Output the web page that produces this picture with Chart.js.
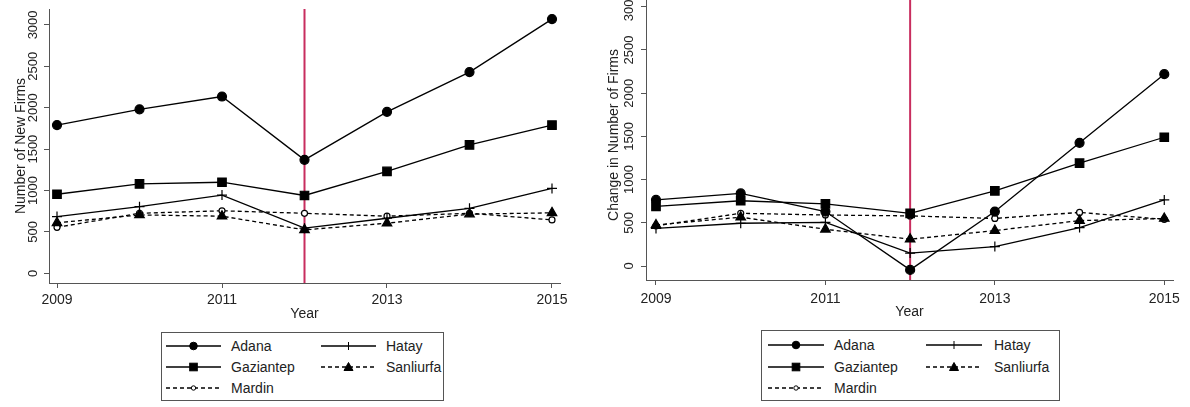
<!DOCTYPE html>
<html>
<head>
<meta charset="utf-8">
<title>New firms by province, 2009-2015</title>
<script src="https://cdn.jsdelivr.net/npm/chart.js@4/dist/chart.umd.min.js"></script>
<style>
    html, body { margin: 0; padding: 0; background: #fff; }
    body {
        width: 1190px; height: 407px; position: relative; overflow: hidden;
        font-family: "Liberation Sans", Arial, sans-serif; color: #222;
    }
    canvas { position: absolute; }
    .legend { position: absolute; border: 1px solid #555; box-sizing: border-box; background: #fff; }
    .legend svg { position: absolute; overflow: visible; }
    .legend span { position: absolute; font-size: 14px; line-height: 16px; white-space: nowrap; }
</style>
</head>
<body>
<canvas id="newFirmsChart" width="590" height="330" style="left:0;top:0"></canvas>
<canvas id="changeChart" width="594" height="350" style="left:596px;top:-20px"></canvas>
<div class="legend" id="newFirmsLegend" style="left:161px;top:332px;width:283px;height:69px"></div>
<div class="legend" id="changeLegend" style="left:761px;top:330px;width:299px;height:71px"></div>

<script>
// Data
const years = [2009, 2010, 2011, 2012, 2013, 2014, 2015];
const provinces = ['Adana', 'Hatay', 'Gaziantep', 'Sanliurfa', 'Mardin'];
const xTicks = [2009, 2011, 2013, 2015];
const yTicks = [0, 500, 1000, 1500, 2000, 2500, 3000];
const cutoffYear = 2012;

// Left panel: number of new firms
const newAdana     = [1790, 1980, 2135, 1370, 1950, 2430, 3070];
const newHatay     = [685, 805, 945, 545, 665, 785, 1025];
const newGaziantep = [955, 1080, 1100, 940, 1230, 1550, 1790];
const newSanliurfa = [610, 705, 690, 525, 605, 715, 730];
const newMardin    = [555, 725, 755, 725, 690, 725, 645];

// Right panel: change in number of firms
const chgAdana     = [765, 840, 630, -45, 630, 1425, 2220];
const chgHatay     = [435, 495, 505, 150, 225, 445, 765];
const chgGaziantep = [690, 755, 720, 610, 870, 1190, 1490];
const chgSanliurfa = [475, 565, 425, 310, 410, 525, 550];
const chgMardin    = [465, 610, 590, 580, 550, 620, 540];

const fontFamily = '"Liberation Sans", Arial, sans-serif';
const textColor = '#222';
const axisColor = '#555';
const cutoffColor = 'rgb(200, 45, 95)';

// marker + line look per province (Stata-like)
const seriesStyle = {
    Adana:     { point: 'circle',   radius: 4.5, fill: '#000', dash: [] },
    Hatay:     { point: 'cross',    radius: 5,   fill: '#000', dash: [] },
    Gaziantep: { point: 'rect',     radius: 6,   fill: '#000', dash: [] },
    Sanliurfa: { point: 'triangle', radius: 5.5, fill: '#000', dash: [4, 3] },
    Mardin:    { point: 'circle',   radius: 3,   fill: '#fff', dash: [4, 3] }
};

// Vertical line at the cutoff year
const cutoffLine = {
    id: 'cutoffLine',
    beforeDatasetsDraw(chart) {
        const { ctx, chartArea, scales } = chart;
        const x = scales.x.getPixelForValue(cutoffYear);
        ctx.save();
        ctx.strokeStyle = cutoffColor;
        ctx.lineWidth = 2;
        ctx.beginPath();
        ctx.moveTo(x, chartArea.top);
        ctx.lineTo(x, chartArea.bottom);
        ctx.stroke();
        ctx.restore();
    }
};

function buildDatasets(seriesList) {
    return provinces.map((name, i) => {
        const st = seriesStyle[name];
        return {
            label: name,
            data: years.map((yr, j) => ({ x: yr, y: seriesList[i][j] })),
            borderColor: '#000',
            borderWidth: 1.3,
            borderDash: st.dash,
            pointStyle: st.point,
            pointRadius: st.radius,
            pointBackgroundColor: st.fill,
            pointBorderColor: '#000',
            pointBorderWidth: 1.2,
            tension: 0,
            clip: false
        };
    });
}

function makePanel(canvasId, seriesList, yTitle, g) {
    const ctx = document.getElementById(canvasId).getContext('2d');
    return new Chart(ctx, {
        type: 'line',
        data: { datasets: buildDatasets(seriesList) },
        options: {
            responsive: false,
            animation: false,
            devicePixelRatio: 1,
            events: [],
            layout: { padding: g.padding },
            plugins: { legend: { display: false }, tooltip: { enabled: false } },
            scales: {
                x: {
                    type: 'linear',
                    min: g.xMin,
                    max: g.xMax,
                    afterBuildTicks: s => { s.ticks = xTicks.map(v => ({ value: v })); },
                    afterFit: s => { s.height = g.xAxisH; },
                    grid: { drawOnChartArea: false, tickLength: 5, color: axisColor },
                    border: { color: axisColor },
                    ticks: {
                        color: textColor, padding: g.xTickPad, maxRotation: 0,
                        font: { family: fontFamily, size: 14 },
                        callback: v => String(v)
                    },
                    title: {
                        display: true, text: 'Year', color: textColor,
                        font: { family: fontFamily, size: 14 },
                        padding: { top: 0, bottom: g.xTitlePad }
                    }
                },
                y: {
                    min: g.yMin,
                    max: g.yMax,
                    afterBuildTicks: s => { s.ticks = yTicks.map(v => ({ value: v })); },
                    afterFit: s => { s.width = g.yAxisW; },
                    grid: { drawOnChartArea: false, tickLength: 5, color: axisColor },
                    border: { color: axisColor },
                    ticks: {
                        color: textColor, padding: g.yTickPad,
                        minRotation: 90, maxRotation: 90, crossAlign: 'center',
                        font: { family: fontFamily, size: 13 },
                        callback: v => String(v)
                    },
                    title: {
                        display: true, text: yTitle, color: textColor,
                        font: { family: fontFamily, size: 14 },
                        padding: { top: g.yTitlePad, bottom: 0 }
                    }
                }
            }
        },
        plugins: [cutoffLine]
    });
}

makePanel('newFirmsChart',
    [newAdana, newHatay, newGaziantep, newSanliurfa, newMardin],
    'Number of New Firms',
    {
        padding: { left: 0, top: 9, right: 30, bottom: 0 },
        xMin: 2008.903, xMax: 2015.097, yMin: -117, yMax: 3192,
        yAxisW: 49, xAxisH: 47, xTickPad: 4, xTitlePad: 7, yTickPad: -4, yTitlePad: 13
    });

makePanel('changeChart',
    [chgAdana, chgHatay, chgGaziantep, chgSanliurfa, chgMardin],
    'Change in Number of Firms',
    {
        padding: { left: 0, top: 10, right: 17, bottom: 0 },
        xMin: 2008.882, xMax: 2015.103, yMin: -162, yMax: 3194,
        yAxisW: 50, xAxisH: 50, xTickPad: 6, xTitlePad: 9, yTickPad: -3, yTitlePad: 10
    });

// Legend (HTML), line sample with the same marker as the plot
function drawSample(svg, st, w) {
    const ns = 'http://www.w3.org/2000/svg';
    const line = document.createElementNS(ns, 'line');
    line.setAttribute('x1', 0); line.setAttribute('x2', w);
    line.setAttribute('y1', 8); line.setAttribute('y2', 8);
    line.setAttribute('stroke', '#000');
    line.setAttribute('stroke-width', 1.3);
    if (st.dash.length) line.setAttribute('stroke-dasharray', st.dash.join(' '));
    svg.appendChild(line);

    const cx = w / 2, cy = 8;
    let mark;
    if (st.point === 'circle') {
        mark = document.createElementNS(ns, 'circle');
        mark.setAttribute('cx', cx); mark.setAttribute('cy', cy);
        mark.setAttribute('r', st.fill === '#fff' ? 2.2 : 3.8);
    } else if (st.point === 'rect') {
        mark = document.createElementNS(ns, 'rect');
        mark.setAttribute('x', cx - 3.8); mark.setAttribute('y', cy - 3.8);
        mark.setAttribute('width', 7.6); mark.setAttribute('height', 7.6);
    } else if (st.point === 'triangle') {
        mark = document.createElementNS(ns, 'polygon');
        mark.setAttribute('points', `${cx},${cy - 4.5} ${cx - 4.5},${cy + 3.5} ${cx + 4.5},${cy + 3.5}`);
    } else {
        mark = document.createElementNS(ns, 'line');
        mark.setAttribute('x1', cx); mark.setAttribute('x2', cx);
        mark.setAttribute('y1', cy - 4); mark.setAttribute('y2', cy + 4);
    }
    mark.setAttribute('fill', st.fill);
    mark.setAttribute('stroke', '#000');
    mark.setAttribute('stroke-width', 1);
    svg.appendChild(mark);
}

function buildLegend(id, cols, rows, sampleW) {
    const box = document.getElementById(id);
    provinces.forEach((name, i) => {
        const col = cols[i % 2];
        const rowY = rows[Math.floor(i / 2)];
        const svg = document.createElementNS('http://www.w3.org/2000/svg', 'svg');
        svg.setAttribute('width', sampleW);
        svg.setAttribute('height', 16);
        svg.style.left = col.sample + 'px';
        svg.style.top = (rowY - 8) + 'px';
        drawSample(svg, seriesStyle[name], sampleW);
        box.appendChild(svg);

        const label = document.createElement('span');
        label.textContent = name;
        label.style.left = col.text + 'px';
        label.style.top = (rowY - 8) + 'px';
        box.appendChild(label);
    });
}

buildLegend('newFirmsLegend',
    [{ sample: 4, text: 69 }, { sample: 159, text: 224 }], [13, 34, 55], 55);
buildLegend('changeLegend',
    [{ sample: 6, text: 72 }, { sample: 164, text: 232 }], [14, 36, 57], 56);
</script>
</body>
</html>
